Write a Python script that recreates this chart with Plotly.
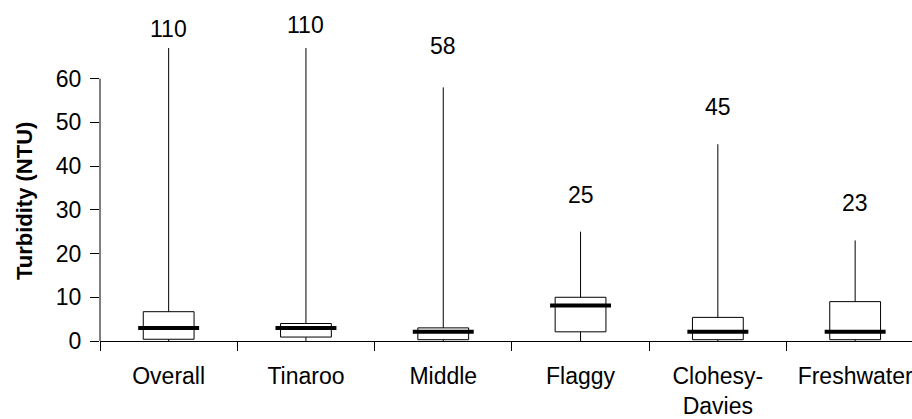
import plotly.graph_objects as go

# Turbidity summary statistics per site (NTU)
sites = ["Overall", "Tinaroo", "Middle", "Flaggy", "Clohesy-<br>Davies", "Freshwater"]
minimum = [0, 0, 0, 0, 0, 0]
lower_q = [0.4, 0.9, 0.3, 2.1, 0.3, 0.3]
median = [3.0, 3.0, 2.1, 8.1, 2.1, 2.1]
upper_q = [6.7, 4.0, 3.0, 10.0, 5.4, 9.0]
maximum = [110, 110, 58, 25, 45, 23]
y_ticks = [0, 10, 20, 30, 40, 50, 60]

FONT = "Liberation Sans, Arial, sans-serif"
FS = 23
Y_TOP = 67          # visible top of the value axis (longer whiskers are cut off here)
BOX_W = 0.37
MED_HALF = 0.222
label_shift = [19, 23, 41, 37, 37, 37]   # pixel gap between whisker top and max label

pos = list(range(len(sites)))

fig = go.Figure()

fig.add_trace(go.Box(
    x=pos,
    q1=lower_q, median=median, q3=upper_q,
    lowerfence=minimum, upperfence=maximum,
    width=BOX_W, whiskerwidth=0,
    line=dict(color="black", width=1),
    fillcolor="white",
    boxpoints=False, hoverinfo="skip", showlegend=False,
))

# thick median bars, wider than the boxes
mx, my = [], []
for p, m in zip(pos, median):
    mx += [p - MED_HALF, p + MED_HALF, None]
    my += [m, m, None]
fig.add_trace(go.Scatter(x=mx, y=my, mode="lines",
                         line=dict(color="black", width=4),
                         hoverinfo="skip", showlegend=False))

# maximum value written above each whisker
for p, mval, sh in zip(pos, maximum, label_shift):
    fig.add_annotation(x=p, y=min(mval, Y_TOP), xref="x", yref="y",
                       text=str(mval), showarrow=False, yshift=sh,
                       yanchor="middle", font=dict(size=FS, color="black", family=FONT))

# value axis title
fig.add_annotation(x=-76 / 812, y=32, xref="paper", yref="y",
                   xanchor="center", yanchor="middle",
                   text="<b>Turbidity (NTU)</b>", textangle=-90, showarrow=False,
                   font=dict(size=22, color="black", family=FONT))

# value axis line only spans the labelled range
fig.add_shape(type="line", xref="paper", yref="y", x0=0, x1=0, y0=0, y1=y_ticks[-1],
              line=dict(color="black", width=1))

fig.update_layout(
    width=912, height=419,
    margin=dict(l=100, r=0, t=48, b=78, autoexpand=False),
    paper_bgcolor="white", plot_bgcolor="white",
    font=dict(family=FONT, size=FS, color="black"),
    xaxis=dict(
        range=[-0.5, -0.5 + 812 / 137.3], tickmode="array", tickvals=pos, ticktext=sites,
        ticks="", ticklen=0, ticklabelstandoff=14, ticklabeloverflow="allow",
        automargin=False,
        showline=True, linecolor="black", linewidth=1,
        showgrid=False, zeroline=False,
        minor=dict(ticks="outside", ticklen=9, tickcolor="black", tick0=-0.5, dtick=1, showgrid=False),
        tickfont=dict(size=FS, family=FONT),
    ),
    yaxis=dict(
        range=[0, Y_TOP], tickmode="array", tickvals=y_ticks,
        ticks="outside", ticklen=9, tickcolor="black", ticklabelstandoff=4,
        automargin=False,
        showline=False, showgrid=False, zeroline=False,
        tickfont=dict(size=FS, family=FONT),
    ),
)

fig.write_html("out.html")
